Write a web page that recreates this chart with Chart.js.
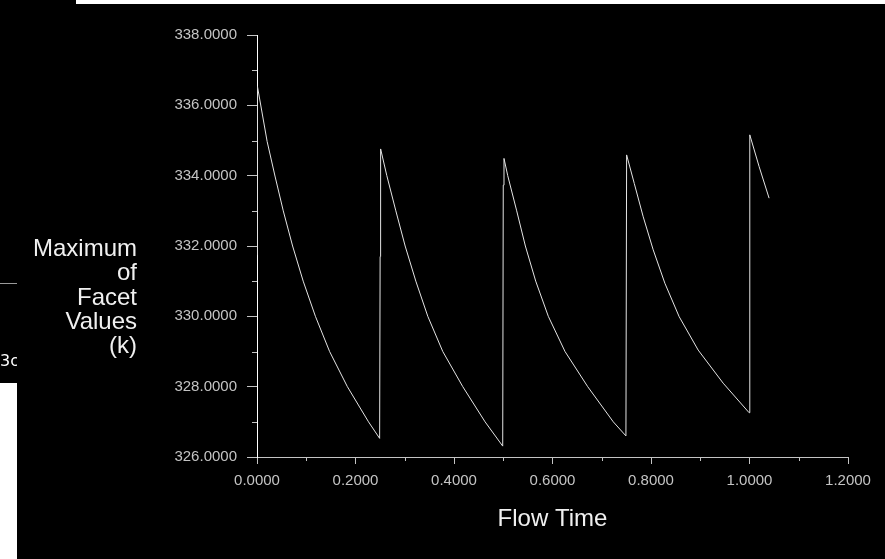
<!DOCTYPE html>
<html>
<head>
<meta charset="utf-8">
<script src="https://cdn.jsdelivr.net/npm/chart.js@4.4.0/dist/chart.umd.min.js"></script>
<style>
    body { margin: 0; background: #000; }
    #wrap { position: relative; width: 885px; height: 559px; background: #000; overflow: hidden; }
    .topbar { position: absolute; left: 76px; top: 0; width: 809px; height: 4px; background: #fff; }
    .leftline { position: absolute; left: 0; top: 283px; width: 17px; height: 1px; background: #9a9a9a; }
    .leftbox { position: absolute; left: 0; top: 383px; width: 17px; height: 176px; background: #fff; }
    .lefttxt { position: absolute; left: 0; top: 351px; width: 17px; overflow: hidden; white-space: nowrap;
               color: #fff; font: 16px "DejaVu Sans", sans-serif; }
</style>
</head>
<body>
<div id="wrap">
    <canvas id="grafico"></canvas>
    <div class="topbar"></div>
    <div class="leftline"></div>
    <div class="lefttxt">3c</div>
    <div class="leftbox"></div>
</div>
<script>
// === DATOS ===
const flowTime = [
    0.000, 0.001, 0.0206, 0.0365, 0.0533, 0.0723, 0.0938, 0.1186, 0.1474, 0.1835, 0.2264, 0.249,
    0.250, 0.251, 0.2636, 0.2819, 0.3008, 0.3225, 0.3468, 0.3772, 0.4178, 0.4631, 0.4989,
    0.5000, 0.5015, 0.5091, 0.5273, 0.5449, 0.5659, 0.5915, 0.6254, 0.6715, 0.7234, 0.7491,
    0.7505, 0.7660, 0.7842, 0.8045, 0.8282, 0.8572, 0.8958, 0.9465, 0.9992,
    1.0006, 1.0195, 1.0398
];
const maxFacet = [
    331.75, 336.53, 334.97, 333.99, 333.0, 332.0, 331.0, 330.0, 329.0, 328.0, 327.0, 326.53,
    331.70, 334.76, 334.0, 333.0, 332.0, 331.0, 330.0, 329.0, 328.0, 327.0, 326.31,
    333.73, 334.49, 334.0, 333.0, 332.0, 331.0, 330.0, 329.0, 328.0, 327.0, 326.60,
    334.59, 333.78, 332.83, 331.89, 330.94, 329.99, 329.04, 328.10, 327.26,
    335.16, 334.26, 333.36
];
const xTitle = "Flow Time";
const yTitle = ["Maximum", "of", "Facet", "Values", "(k)"];

const fuente = '"Liberation Sans", Arial, sans-serif';
const grisTick = "#c4c4c4";

// === TICKS MENORES Y TITULOS ===
const extrasPlugin = {
    id: "extras",
    afterDraw(chart) {
        const ctx = chart.ctx;
        const xs = chart.scales.x;
        const ys = chart.scales.y;
        const area = chart.chartArea;
        ctx.save();
        ctx.strokeStyle = grisTick;
        ctx.lineWidth = 1;
        ctx.beginPath();
        for (let v = 0.1; v < 1.2; v += 0.2) {
            const px = Math.round(xs.getPixelForValue(v)) + 0.5;
            ctx.moveTo(px, area.bottom);
            ctx.lineTo(px, area.bottom + 4);
        }
        for (let v = 327; v < 338; v += 2) {
            const py = Math.round(ys.getPixelForValue(v)) + 0.5;
            ctx.moveTo(area.left - 5, py);
            ctx.lineTo(area.left, py);
        }
        ctx.stroke();

        ctx.fillStyle = "#f0f0f0";
        ctx.font = "24px " + fuente;
        ctx.textAlign = "center";
        ctx.textBaseline = "alphabetic";
        ctx.fillText(xTitle, (area.left + area.right) / 2, 526);

        ctx.textAlign = "right";
        yTitle.forEach((linea, i) => {
            ctx.fillText(linea, area.left - 120, 256 + i * 24.3);
        });
        ctx.restore();
    }
};

// === GRAFICO ===
const ctx = document.getElementById("grafico").getContext("2d");
new Chart(ctx, {
    type: "scatter",
    data: {
        datasets: [{
            data: flowTime.map((t, i) => ({ x: t, y: maxFacet[i] })),
            showLine: true,
            borderColor: "#e4e4e4",
            borderWidth: 1,
            pointRadius: 0,
            tension: 0
        }]
    },
    options: {
        responsive: true,
        maintainAspectRatio: false,
        animation: false,
        layout: { padding: { top: 35, right: 37, left: 0, bottom: 0 } },
        plugins: { legend: { display: false }, tooltip: { enabled: false } },
        scales: {
            x: {
                type: "linear",
                min: 0,
                max: 1.2,
                afterFit(s) { s.height = 102; },
                ticks: {
                    stepSize: 0.2,
                    callback: v => v.toFixed(4),
                    color: grisTick,
                    font: { family: fuente, size: 15 },
                    padding: 8,
                    maxRotation: 0,
                    autoSkip: false
                },
                grid: { drawOnChartArea: false, drawTicks: true, tickLength: 7, color: grisTick },
                border: { display: true, color: grisTick, width: 1 }
            },
            y: {
                min: 326,
                max: 338,
                afterFit(s) { s.width = 257; },
                ticks: {
                    stepSize: 2,
                    callback: v => v.toFixed(4),
                    color: grisTick,
                    font: { family: fuente, size: 15 },
                    padding: 10
                },
                grid: { drawOnChartArea: false, drawTicks: true, tickLength: 10, color: grisTick },
                border: { display: true, color: "#ffffff", width: 1 }
            }
        }
    },
    plugins: [extrasPlugin]
});
</script>
</body>
</html>
